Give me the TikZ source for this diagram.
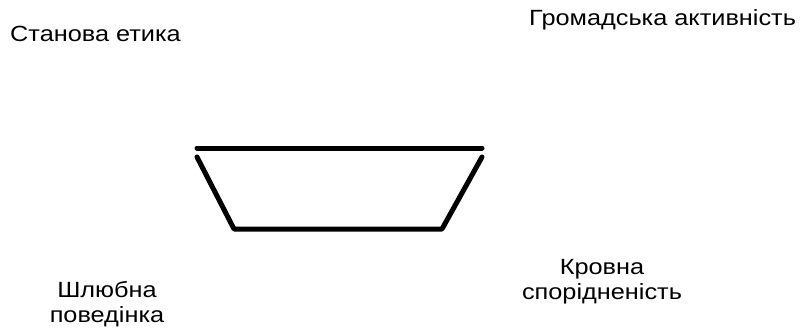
\documentclass[tikz,border=0pt]{standalone}
\usepackage{fontspec}
\setmainfont[FakeStretch=1.15]{Liberation Sans}
\tikzset{
    caption/.style={inner sep=0pt, align=center, font=\fontsize{22}{25}\selectfont},
    rim/.style={line width=5pt, line cap=round, line join=round}
}
\begin{document}
\begin{tikzpicture}[x=1pt,y=-1pt]
    \useasboundingbox (0,0) rectangle (801,329);
    % Top labels
    \foreach \name/\i/\x/\y in {Станова етика/1/10/42,Громадська активність/2/529/26} {
        \node[caption, anchor=base west] (Top-\i) at (\x,\y) {\name};
    }
    % Bottom labels
    \foreach \name/\i/\x/\y in {Шлюбна\\поведінка/1/107/304.5,Кровна\\спорідненість/2/602/282} {
        \node[caption] (Bottom-\i) at (\x,\y) {\name};
    }
    % Bowl
    \draw[rim] (197,148) -- (482,148);
    \draw[rim] (197,157) -- (234,229) -- (442,229) -- (482,157);
\end{tikzpicture}
\end{document}
